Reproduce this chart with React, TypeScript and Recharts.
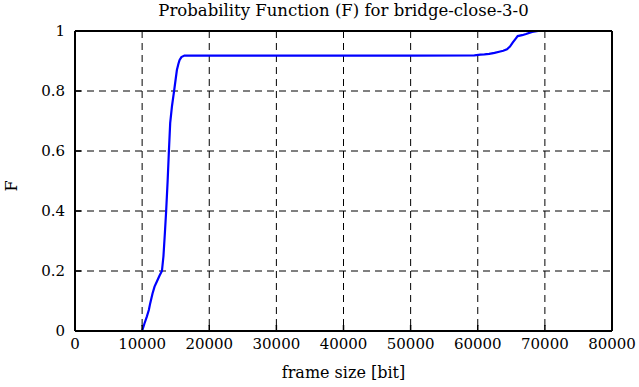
import { LineChart, Line, XAxis, YAxis, CartesianGrid } from 'recharts';

const frameSize = [
  10000, 10350, 10700, 11000, 11200, 11550, 11850, 12200, 12600, 12950, 13180,
  13400, 13580, 13800, 13990, 14180, 14450, 14780, 15000, 15180, 15400, 15570,
  15850, 16300, 20000, 30000, 40000, 50000, 59500, 60400, 61000, 61700, 62500,
  63200, 63800, 64350, 64800, 65200, 65600, 65950, 66600, 67200, 68100, 69000,
  69950,
];
const probF = [
  0, 0.025, 0.048, 0.07, 0.092, 0.125, 0.148, 0.165, 0.185, 0.2, 0.25,
  0.33, 0.4, 0.5, 0.6, 0.693, 0.75, 0.803, 0.84, 0.87, 0.89, 0.903,
  0.913, 0.918, 0.918, 0.918, 0.918, 0.918, 0.919, 0.921, 0.922, 0.924, 0.927,
  0.931, 0.934, 0.939, 0.948, 0.961, 0.973, 0.983, 0.986, 0.99, 0.997, 1,
  1,
];
const xTicks = [0, 10000, 20000, 30000, 40000, 50000, 60000, 70000, 80000];
const yTicks = [0, 0.2, 0.4, 0.6, 0.8, 1];

const data = frameSize.map((x, i) => ({ x, f: probF[i] }));

const FONT = '"DejaVu Serif", serif';
const FS = 15;
const TICK = 6;

function BottomTick(props: any) {
  const { x, y, payload } = props;
  const gap = 7;
  return (
    <g>
      <line x1={x} x2={x} y1={y - gap} y2={y - gap - TICK} stroke="#000" strokeWidth={1.5} />
      <text x={x} y={y} dy="0.75em" textAnchor="middle" style={{ fontFamily: FONT }} fontSize={FS} fill="#000">
        {payload.value}
      </text>
    </g>
  );
}

function LeftTick(props: any) {
  const { x, y, payload } = props;
  const gap = 10;
  return (
    <g>
      <line x1={x + gap} x2={x + gap + TICK} y1={y} y2={y} stroke="#000" strokeWidth={1.5} />
      <text x={x} y={y} dy="0.35em" textAnchor="end" style={{ fontFamily: FONT }} fontSize={FS} fill="#000">
        {String(payload.value)}
      </text>
    </g>
  );
}

function TopTick(props: any) {
  const { x, y } = props;
  return <line x1={x} x2={x} y1={y} y2={y + TICK} stroke="#000" strokeWidth={1.5} />;
}

function RightTick(props: any) {
  const { x, y } = props;
  return <line x1={x} x2={x - TICK} y1={y} y2={y} stroke="#000" strokeWidth={1.5} />;
}

export default function App() {
  return (
    <div style={{ position: 'absolute', left: 0, top: 0, width: 639, height: 387, background: '#fff', fontFamily: FONT }}>
      <LineChart width={639} height={387} data={data} margin={{ top: 0, right: 0, bottom: 0, left: 0 }}>
        <CartesianGrid stroke="#000" strokeDasharray="7 5" strokeWidth={1} />
        <XAxis
          dataKey="x"
          type="number"
          domain={[0, 80000]}
          ticks={xTicks}
          height={56}
          tickLine={false}
          tickSize={0}
          tickMargin={7}
          axisLine={{ stroke: '#000', strokeWidth: 2 }}
          tick={<BottomTick />}
          interval={0}
        />
        <XAxis
          xAxisId="top"
          orientation="top"
          type="number"
          domain={[0, 80000]}
          ticks={xTicks}
          height={31}
          tickLine={false}
          tickSize={0}
          tickMargin={0}
          axisLine={{ stroke: '#000', strokeWidth: 2 }}
          tick={<TopTick />}
          interval={0}
        />
        <YAxis
          type="number"
          domain={[0, 1]}
          ticks={yTicks}
          width={75}
          tickLine={false}
          tickSize={0}
          tickMargin={10}
          axisLine={{ stroke: '#000', strokeWidth: 2 }}
          tick={<LeftTick />}
          interval={0}
        />
        <YAxis
          yAxisId="right"
          orientation="right"
          type="number"
          domain={[0, 1]}
          ticks={yTicks}
          width={27}
          tickLine={false}
          tickSize={0}
          tickMargin={0}
          axisLine={{ stroke: '#000', strokeWidth: 2 }}
          tick={<RightTick />}
          interval={0}
        />
        <Line
          dataKey="f"
          type="linear"
          stroke="#0000ff"
          strokeWidth={2.2}
          dot={false}
          isAnimationActive={false}
        />
      </LineChart>
      <div style={{ position: 'absolute', left: 75, width: 537, top: 1, textAlign: 'center', fontSize: 16.5, lineHeight: '20px' }}>
        Probability Function (F) for bridge-close-3-0
      </div>
      <div style={{ position: 'absolute', left: 75, width: 537, top: 363, textAlign: 'center', fontSize: 16, lineHeight: '20px' }}>
        frame size [bit]
      </div>
      <div
        style={{
          position: 'absolute',
          left: 12,
          top: 186,
          fontSize: 16,
          lineHeight: '16px',
          transform: 'translate(-50%, -50%) rotate(-90deg)',
        }}
      >
        F
      </div>
    </div>
  );
}
